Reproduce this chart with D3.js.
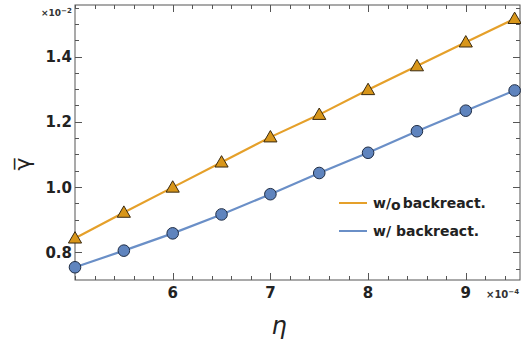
<!DOCTYPE html>
<html>
<head>
<meta charset="utf-8">
<script src="https://cdn.jsdelivr.net/npm/d3@7"></script>
<style>
  html, body { margin: 0; padding: 0; background: #fff; }
  svg { display: block; }
  text { font-family: "DejaVu Sans", sans-serif; }
</style>
</head>
<body>
<svg id="chart" width="521" height="342"></svg>
<script>
// eta values (in units of 1e-4)
const eta = [5.0, 5.5, 6.0, 6.5, 7.0, 7.5, 8.0, 8.5, 9.0, 9.5];
// gamma-bar without backreaction (units of 1e-2)
const gammaNoBack = [0.843, 0.922, 0.999, 1.076, 1.153, 1.222, 1.298, 1.371, 1.444, 1.516];
// gamma-bar with backreaction (units of 1e-2)
const gammaBack = [0.754, 0.805, 0.858, 0.916, 0.978, 1.043, 1.105, 1.171, 1.234, 1.296];

const xTicks = [6, 7, 8, 9];
const xTickLabels = ["6", "7", "8", "9"];
const yTicks = [0.8, 1.0, 1.2, 1.4];
const yTickLabels = ["0.8", "1.0", "1.2", "1.4"];
const seriesNames = ["w/o backreact.", "w/ backreact."];

const orange = "#E5A02A";
const blue = "#6A8FC7";
const frameColor = "#555";

const svg = d3.select("#chart");
const plot = { left: 75, right: 520, top: 5, bottom: 280 };

const x = d3.scaleLinear().domain([5.0, 9.555]).range([plot.left, plot.right]);
const y = d3.scaleLinear().domain([0.715, 1.558]).range([plot.bottom, plot.top]);

// frame
svg.append("rect")
  .attr("x", plot.left).attr("y", plot.top)
  .attr("width", plot.right - plot.left).attr("height", plot.bottom - plot.top)
  .attr("fill", "none").attr("stroke", frameColor).attr("stroke-width", 1);

// tick marks (inward) on all four sides
const xMinor = d3.range(5.0, 9.56, 0.2).filter(v => !xTicks.some(t => Math.abs(t - v) < 1e-6));
const yMinor = d3.range(0.75, 1.56, 0.05).filter(v => !yTicks.some(t => Math.abs(t - v) < 1e-6));
const ticksG = svg.append("g").attr("stroke", frameColor).attr("stroke-width", 1);
function xTickMarks(vals, len) {
  vals.forEach(v => {
    const px = Math.round(x(v)) + 0.5;
    ticksG.append("line").attr("x1", px).attr("x2", px).attr("y1", plot.bottom).attr("y2", plot.bottom - len);
    ticksG.append("line").attr("x1", px).attr("x2", px).attr("y1", plot.top).attr("y2", plot.top + len);
  });
}
function yTickMarks(vals, len) {
  vals.forEach(v => {
    const py = Math.round(y(v)) + 0.5;
    ticksG.append("line").attr("x1", plot.left).attr("x2", plot.left + len).attr("y1", py).attr("y2", py);
    ticksG.append("line").attr("x1", plot.right).attr("x2", plot.right - len).attr("y1", py).attr("y2", py);
  });
}
xTickMarks(xTicks, 7); xTickMarks(xMinor, 4);
yTickMarks(yTicks, 7); yTickMarks(yMinor, 4);

// tick labels
svg.append("g").selectAll("text").data(xTicks).join("text")
  .attr("x", d => x(d)).attr("y", 298)
  .attr("text-anchor", "middle")
  .attr("font-size", 15).attr("font-weight", "bold").attr("fill", "#222")
  .text((d, i) => xTickLabels[i]);
svg.append("g").selectAll("text").data(yTicks).join("text")
  .attr("x", 72).attr("y", d => y(d) + 5.5)
  .attr("text-anchor", "end")
  .attr("font-size", 15).attr("font-weight", "bold").attr("fill", "#222")
  .text((d, i) => yTickLabels[i]);

// scale factors
const e2 = svg.append("text").attr("x", 41).attr("y", 16)
  .attr("font-size", 9).attr("font-weight", "bold").attr("fill", "#333");
e2.append("tspan").text("×10");
e2.append("tspan").attr("dy", -3).attr("font-size", 7).text("−2");
const e4 = svg.append("text").attr("x", 486).attr("y", 298)
  .attr("font-size", 10).attr("font-weight", "bold").attr("fill", "#333");
e4.append("tspan").text("×10");
e4.append("tspan").attr("dy", -4).attr("font-size", 7).text("−4");

// axis titles
svg.append("text")
  .attr("transform", "translate(30,164) rotate(-90)")
  .attr("text-anchor", "middle")
  .attr("font-family", "'DejaVu Sans', sans-serif")
  .attr("font-size", 22).attr("fill", "#222")
  .text("γ\u0305");
svg.append("text")
  .attr("x", 279).attr("y", 334)
  .attr("text-anchor", "middle")
  .attr("font-family", "'DejaVu Serif', serif")
  .attr("font-style", "italic")
  .attr("font-size", 24).attr("fill", "#222")
  .text("η");

// series lines
const line = d3.line().x((d, i) => x(eta[i])).y(d => y(d));
svg.append("path").datum(gammaNoBack).attr("d", line)
  .attr("fill", "none").attr("stroke", orange).attr("stroke-width", 2.2);
svg.append("path").datum(gammaBack).attr("d", line)
  .attr("fill", "none").attr("stroke", blue).attr("stroke-width", 2.2);

// markers
const tri = d3.symbol().type(d3.symbolTriangle).size(75);
svg.append("g").selectAll("path").data(gammaNoBack).join("path")
  .attr("d", tri)
  .attr("transform", (d, i) => `translate(${x(eta[i])},${y(d) + 1})`)
  .attr("fill", "#D8961A").attr("stroke", "#3a2a10").attr("stroke-width", 1);
svg.append("g").selectAll("circle").data(gammaBack).join("circle")
  .attr("cx", (d, i) => x(eta[i])).attr("cy", d => y(d)).attr("r", 5.8)
  .attr("fill", "#5F84BE").attr("stroke", "#1f2d45").attr("stroke-width", 1);

// legend
const legend = svg.append("g");
[orange, blue].forEach((c, i) => {
  const ly = 203 + i * 28;
  legend.append("line").attr("x1", 339).attr("x2", 367).attr("y1", ly).attr("y2", ly)
    .attr("stroke", c).attr("stroke-width", 2);
  const t = legend.append("text").attr("x", 373).attr("y", ly + 5)
    .attr("font-size", 14).attr("font-weight", "bold").attr("fill", "#222");
  if (i === 0) {
    t.append("tspan").text("w/");
    t.append("tspan").attr("dy", 2).text("o");
    t.append("tspan").attr("dy", -2).attr("dx", 2).text("backreact.");
  } else {
    t.text(seriesNames[i]);
  }
});
</script>
</body>
</html>
